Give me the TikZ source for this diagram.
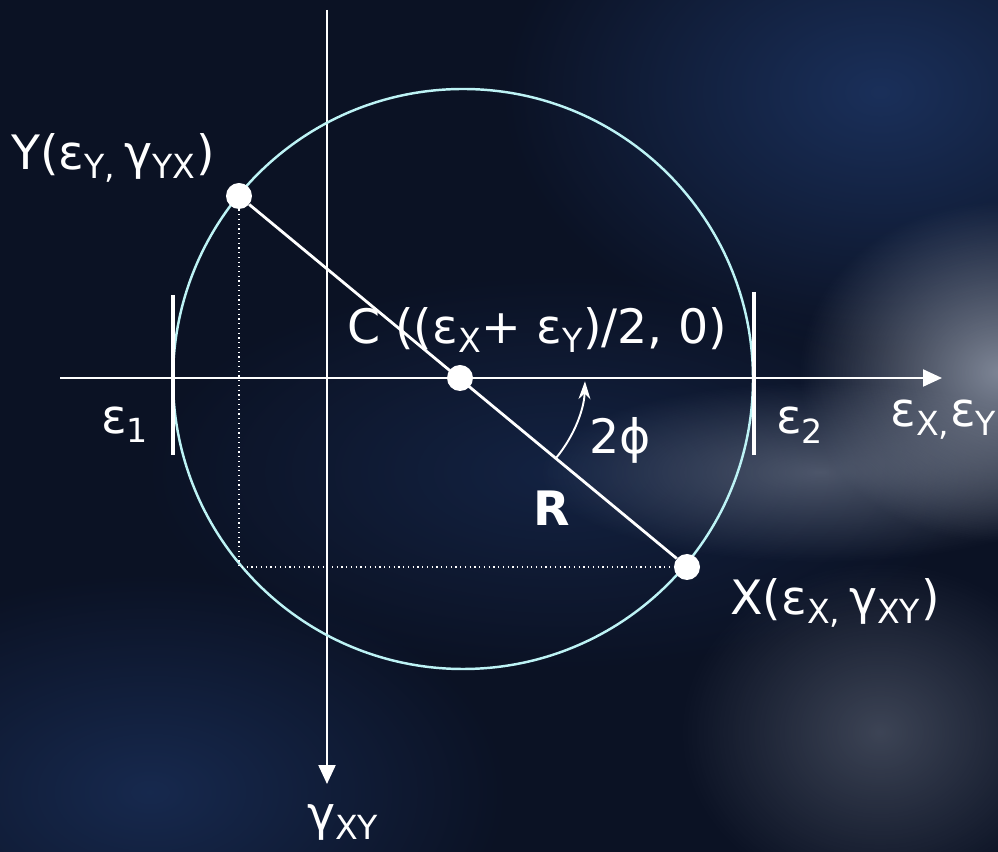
\documentclass[tikz,border=0pt]{standalone}
\usepackage{fontspec}
\setmainfont{DejaVu Sans}
\usepackage{xcolor}
\usetikzlibrary{arrows.meta,fadings,positioning}
\definecolor{bgnavy}{HTML}{0B1224}
\definecolor{bgblue}{HTML}{1C3360}
\definecolor{mohrcyan}{HTML}{BDF3F5}
\definecolor{cloud}{HTML}{9AA2B2}
\tikzfading[name=softglow,inner color=transparent!0,outer color=transparent!100]

\begin{document}
\begin{tikzpicture}[x=0.02cm,y=0.02cm,
	lbl/.style={text=white,font=\fontsize{27}{30}\selectfont,inner sep=0pt},
	ptdot/.style={circle,fill=white,inner sep=0pt,minimum size=0.52cm},
	axis/.style={white,line width=1.3pt,-{Triangle[length=0.38cm,width=0.34cm]}},
	glow/.style={path fading=softglow}]
	\useasboundingbox (0,0) rectangle (998,852);
	% background
	\fill[bgnavy] (0,0) rectangle (998,852);
	\fill[bgblue,opacity=.9,glow] (880,760) ellipse (380 and 260);
	\fill[bgblue,opacity=.7,glow] (150,60) ellipse (360 and 220);
	\fill[bgblue,opacity=.5,glow] (560,380) ellipse (420 and 200);
	\fill[cloud,opacity=.8,glow] (1000,480) ellipse (200 and 170);
	\fill[cloud,opacity=.45,glow] (820,380) ellipse (280 and 90);
	\fill[cloud,opacity=.35,glow] (880,120) ellipse (200 and 170);

	% axes
	\coordinate (hL) at (60,474);
	\coordinate (hR) at (942,474);
	\coordinate (vT) at (327,842);
	\coordinate (vB) at (327,68);
	\draw[axis] (hL) -- (hR);
	\draw[axis] (vT) -- (vB);

	% circle and strain limits
	\draw[mohrcyan,line width=1.4pt] (463,473) circle (290);
	\draw[white,line width=2.4pt] (173,557) -- (173,397);
	\draw[white,line width=2.4pt] (754,560) -- (754,397);

	% points
	\node[ptdot] (ptY) at (239,656) {};
	\node[ptdot] (ptX) at (687,285) {};
	\node[ptdot] (ptC) at (460,474) {};
	\coordinate (crn) at (239,285);
	\draw[white,dotted,line width=.7pt] (ptY) -- (crn) -- (ptX);
	\draw[white,line width=1.6pt] (ptY) -- (ptX);
	\draw[white,line width=1.1pt,-{Stealth[length=0.36cm,width=0.24cm]}] (ptC) ++(-39.6:125) arc (-39.6:-1.5:125);

	% labels
	\node[lbl] (lY) at (113,694) {Y(ε\textsubscript{Y,}\,γ\textsubscript{YX})};
	\node[lbl] (lC) at (537,522) {C ((ε\textsubscript{X}+ ε\textsubscript{Y})/2, 0)};
	\node[lbl] (le1) at (125,427) {ε\textsubscript{1}};
	\node[lbl] (le2) at (800,427) {ε\textsubscript{2}};
	\node[lbl,anchor=west] (lexy) at (890,432) {ε\textsubscript{X,}ε\textsubscript{Y}};
	\node[lbl] (lphi) at (620,412) {2ϕ};
	\node[lbl] (lR) at (552,344) {\textbf{R}};
	\node[lbl] (lX) at (835,249) {X(ε\textsubscript{X,}\,γ\textsubscript{XY})};
	\node[lbl] (lg) at (343,30) {γ\textsubscript{XY}};
\end{tikzpicture}
\end{document}
